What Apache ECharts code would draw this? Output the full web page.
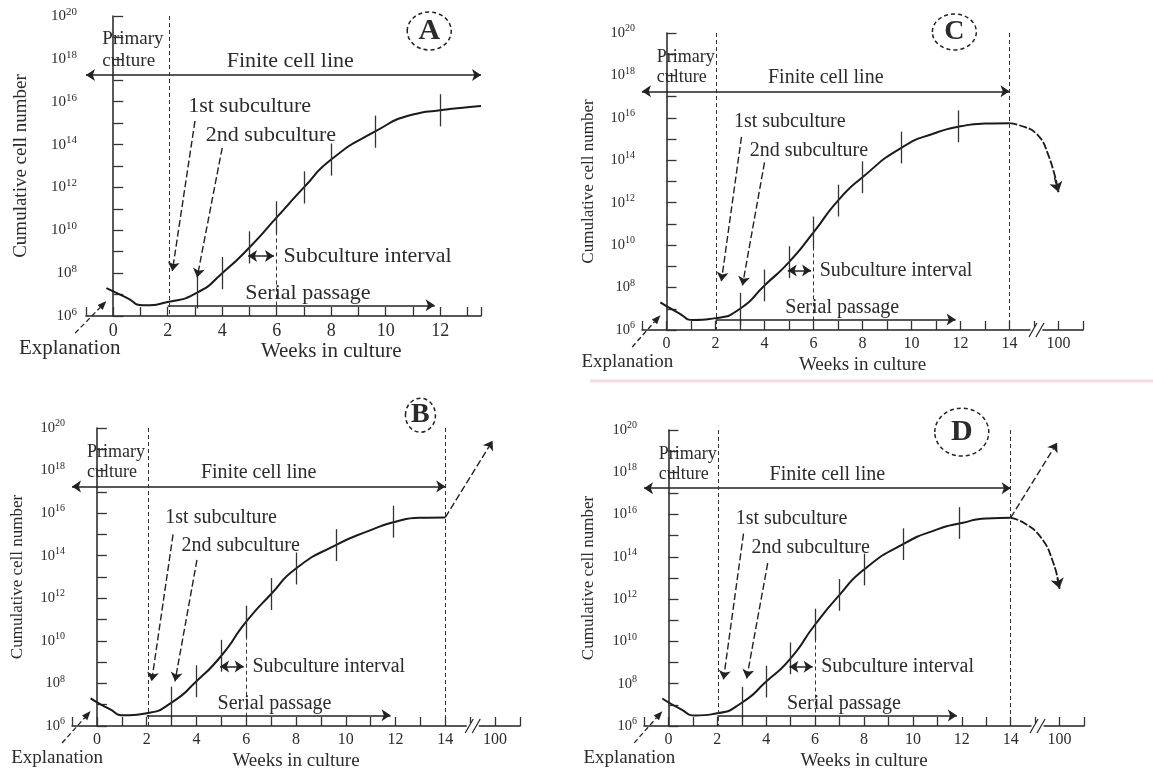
<!DOCTYPE html>
<html><head><meta charset="utf-8">
<script src="https://cdn.jsdelivr.net/npm/echarts@6/dist/echarts.min.js"></script>
<style>html,body{margin:0;padding:0;background:#fff}#c{width:1153px;height:774px}</style>
</head><body><div id="c"></div>
<script>
// ---------------- data (cell numbers are log10 exponents) ----------------
const panelLetters = ['A', 'B', 'C', 'D'];
const yTickExponents = [6, 8, 10, 12, 14, 16, 18, 20];
const xTickPositionsA = [0, 2, 4, 6, 8, 10, 12];
const xTickLabelsA = ['0', '2', '4', '6', '8', '10', '12'];
const xTickPositionsBCD = [0, 2, 4, 6, 8, 10, 12, 14, 16];
const xTickLabelsBCD = ['0', '2', '4', '6', '8', '10', '12', '14', '100'];

const weeksA = [-0.25, 0.5, 1.1, 2, 3.1, 4, 5, 6, 7, 8, 9.6, 11, 12, 13.5];
const cellsA = [7.3, 6.85, 6.5, 6.65, 7.1, 8.0, 9.2, 10.6, 12.0, 13.3, 14.6, 15.4, 15.6, 15.8];
const weeksBCD = [-0.25, 0.5, 1.1, 2, 3, 4, 5, 6, 7, 8, 9.6, 11, 12, 13, 14];
const cellsB = [7.3, 6.8, 6.5, 6.6, 7.1, 8.1, 9.3, 10.9, 12.2, 13.4, 14.5, 15.2, 15.6, 15.78, 15.8];
const cellsC = [7.3, 6.8, 6.47, 6.56, 7.0, 8.1, 9.2, 10.6, 12.1, 13.2, 14.6, 15.3, 15.6, 15.73, 15.75];
const cellsD = [7.3, 6.8, 6.5, 6.6, 7.1, 8.1, 9.2, 10.8, 12.2, 13.4, 14.6, 15.3, 15.6, 15.82, 15.85];

const passageWeeksA = [3.1, 4, 5, 6, 7, 8, 9.6, 12];
const passageCellsA = [7.1, 8.0, 9.2, 10.6, 12.0, 13.3, 14.6, 15.6];
const passageWeeksBCD = [3, 4, 5, 6, 7, 8, 9.6, 11.9];
const passageCellsB = [7.1, 8.1, 9.3, 10.9, 12.2, 13.4, 14.5, 15.6];
const passageCellsC = [7.0, 8.1, 9.2, 10.6, 12.1, 13.2, 14.6, 15.6];
const passageCellsD = [7.1, 8.1, 9.2, 10.8, 12.2, 13.4, 14.6, 15.6];

const tailUpWeeks = [14, 15.9];
const tailUpCellsB = [15.8, 19.4];
const tailUpCellsD = [15.85, 19.4];
const tailDownWeeksC = [14, 14.4, 15.1, 15.6, 16.0];
const tailDownCellsC = [15.75, 15.65, 15.25, 14.2, 12.5];
const tailDownWeeksD = [14, 14.55, 15.25, 15.75, 16.0];
const tailDownCellsD = [15.85, 15.6, 14.9, 13.7, 12.5];

// ---------------- layout / style ----------------
const INK = '#222';
const TXT = '#2b2b2b';
const FONT = '"Liberation Serif", "DejaVu Serif", serif';
const zip = (a, b) => a.map((v, i) => [v, b[i]]);

const panels = [
  { letter: 'A', grid: { left: 86, top: 16, width: 395, height: 300 }, xMax: 13.5, scale: 1.1,
    weeks: weeksA, cells: cellsA, pw: passageWeeksA, pc: passageCellsA,
    xPos: xTickPositionsA, xLab: xTickLabelsA, has14: false, up: null, down: null,
    circle: [11.6, 19.3], r: [22, 19], letterSize: 30, nameGap: 55, yMargin: 9, yFont: 15, ySup: 11, xFont: 18,
    sub1: [[3.0, 15.1], [2.17, 8.1]], sub2: [[4.0, 13.85], [3.08, 7.8]] },
  { letter: 'B', grid: { left: 72, top: 428, width: 448, height: 298 }, xMax: 17, scale: 1,
    weeks: weeksBCD, cells: cellsB, pw: passageWeeksBCD, pc: passageCellsB,
    xPos: xTickPositionsBCD, xLab: xTickLabelsBCD, has14: true, up: tailUpCellsB, down: null,
    circle: [13.0, 20.6], r: [15, 17], letterSize: 28, nameGap: 46, yMargin: 7, yFont: 14.5, ySup: 10, xFont: 16,
    sub1: [[3.06, 15.0], [2.2, 8.1]], sub2: [[4.02, 13.8], [3.14, 8.1]] },
  { letter: 'C', grid: { left: 642, top: 33, width: 441, height: 297 }, xMax: 17, scale: 1,
    weeks: weeksBCD, cells: cellsC, pw: passageWeeksBCD, pc: passageCellsC,
    xPos: xTickPositionsBCD, xLab: xTickLabelsBCD, has14: true, up: null, down: [tailDownWeeksC, tailDownCellsC],
    circle: [11.75, 20.05], r: [22, 18], letterSize: 28, nameGap: 45, yMargin: 7, yFont: 14.5, ySup: 10, xFont: 16,
    sub1: [[3.06, 15.1], [2.24, 8.3]], sub2: [[4.0, 13.9], [3.1, 8.1]] },
  { letter: 'D', grid: { left: 644, top: 430, width: 440, height: 296 }, xMax: 17, scale: 1,
    weeks: weeksBCD, cells: cellsD, pw: passageWeeksBCD, pc: passageCellsD,
    xPos: xTickPositionsBCD, xLab: xTickLabelsBCD, has14: true, up: tailUpCellsD, down: [tailDownWeeksD, tailDownCellsD],
    circle: [12.0, 19.9], r: [27, 24], letterSize: 30, nameGap: 47, yMargin: 7, yFont: 14.5, ySup: 10, xFont: 16,
    sub1: [[3.07, 15.1], [2.25, 8.2]], sub2: [[4.06, 13.7], [3.2, 8.25]] }
];

function markLines(p) {
  const solid = { type: 'solid', color: INK, width: 1.5 };
  const bar = { type: 'solid', color: '#333', width: 1.3 };
  const dash = { type: [7, 3], color: INK, width: 1.4 };
  const thinDash = { type: [4, 3], color: '#333', width: 1 };
  const ml = [];
  const seg = (a, b, style, s1, s2) => ml.push([
    { coord: a, symbol: s1 || 'none', lineStyle: style },
    { coord: b, symbol: s2 || 'none' }
  ]);
  p.pw.forEach((w, k) => seg([w, p.pc[k] - 0.75], [w, p.pc[k] + 0.75], bar));
  seg([-1, 17.25], [p.xMax === 17 ? 14 : p.xMax, 17.25], solid, 'arrow', 'arrow');
  seg([2.05, 20], [2.05, 6], thinDash);
  if (p.has14) seg([14, 20], [14, 6], thinDash);
  seg([6, p.pc[3]], [6, 6], thinDash);
  seg(p.sub1[0], p.sub1[1], dash, 'none', 'arrow');
  seg(p.sub2[0], p.sub2[1], dash, 'none', 'arrow');
  seg([4.95, 8.8], [5.9, 8.8], solid, 'arrow', 'arrow');
  seg([2, 6.5], [11.8, 6.5], solid, 'none', 'arrow');
  if (p.up) seg([tailUpWeeks[0], p.up[0]], [tailUpWeeks[1], p.up[1]], dash, 'none', 'arrow');
  return ml;
}

const option = { animation: false, backgroundColor: '#fff', grid: [], xAxis: [], yAxis: [], series: [] };

panels.forEach((p, i) => {
  option.grid.push(Object.assign({ containLabel: false }, p.grid));
  option.xAxis.push({
    gridIndex: i, type: 'value', min: -1, max: p.xMax, interval: 1,
    axisLine: { onZero: false, lineStyle: { color: INK, width: 1.5 } },
    axisTick: { inside: true, length: 9, lineStyle: { color: '#333', width: 1.3 } },
    splitLine: { show: false },
    axisLabel: {
      margin: 6, color: TXT, fontFamily: FONT, fontSize: p.xFont,
      formatter: v => { const k = p.xPos.indexOf(v); return k >= 0 ? p.xLab[k] : ''; }
    }
  });
  option.yAxis.push({
    gridIndex: i, type: 'value', min: 6, max: 20, interval: 1,
    axisLine: { show: true, lineStyle: { color: INK, width: 1.5 } },
    axisTick: { show: true, inside: true, length: 10, lineStyle: { color: '#333', width: 1.3 } },
    splitLine: { show: false },
    axisLabel: {
      margin: p.yMargin,
      formatter: v => yTickExponents.includes(v) ? '{b|10}{s|' + v + '}' : '',
      rich: {
        b: { fontFamily: FONT, fontSize: p.yFont, color: TXT, lineHeight: 19 },
        s: { fontFamily: FONT, fontSize: p.ySup, color: TXT, lineHeight: 11, verticalAlign: 'top' }
      }
    },
    name: 'Cumulative cell number', nameLocation: 'middle', nameGap: p.nameGap,
    nameTextStyle: { fontFamily: FONT, fontSize: Math.round(17 * p.scale), color: TXT }
  });
  option.series.push({
    type: 'line', xAxisIndex: i, yAxisIndex: i, data: zip(p.weeks, p.cells),
    smooth: 0.6, symbol: 'none', silent: true, z: 3,
    lineStyle: { color: '#1a1a1a', width: 2 },
    markLine: {
      silent: true, animation: false, symbolSize: 9, label: { show: false },
      emphasis: { disabled: true }, lineStyle: { type: 'solid', color: INK, width: 1.5 },
      data: markLines(p)
    }
  });
  if (p.down) {
    const dw = p.down[0], dc = p.down[1], n = dw.length;
    option.series.push({
      type: 'line', xAxisIndex: i, yAxisIndex: i, data: zip(dw, dc),
      smooth: 0.5, symbol: 'none', silent: true, z: 3,
      lineStyle: { color: '#1a1a1a', width: 1.8, type: [8, 2] },
      markLine: {
        silent: true, animation: false, symbolSize: 10, label: { show: false },
        emphasis: { disabled: true }, lineStyle: { type: 'solid', color: INK, width: 1.5 },
        data: [[{ coord: [dw[n - 2] + (dw[n - 1] - dw[n - 2]) * 0.6, dc[n - 2] + (dc[n - 1] - dc[n - 2]) * 0.6], symbol: 'none' },
                { coord: [dw[n - 1], dc[n - 1]], symbol: 'arrow' }]]
      }
    });
  }
});

const chart = echarts.init(document.getElementById('c'));
chart.setOption(option);

// ---------------- annotations placed through the chart's own scales ----------------
const g = [];
function text(pt, str, size, align, extra) {
  g.push({ type: 'text', x: pt[0], y: pt[1], silent: true, z: 10,
    style: Object.assign({ text: str, fontFamily: FONT, fontSize: size, fill: TXT,
      align: align || 'left', verticalAlign: 'middle' }, extra || {}) });
}
function arrow(a, b, dashed) {
  const ang = Math.atan2(b[1] - a[1], b[0] - a[0]);
  const L = 9, W = 3.5;
  const bx = b[0] - L * Math.cos(ang), by = b[1] - L * Math.sin(ang);
  const nx = -Math.sin(ang), ny = Math.cos(ang);
  g.push({ type: 'line', silent: true, z: 10, shape: { x1: a[0], y1: a[1], x2: bx, y2: by },
    style: { stroke: INK, lineWidth: 1.3, lineDash: dashed ? [5, 3] : null } });
  g.push({ type: 'polygon', silent: true, z: 10,
    shape: { points: [[b[0], b[1]], [bx + nx * W, by + ny * W], [bx - nx * W, by - ny * W]] },
    style: { fill: INK } });
}

panels.forEach((p, i) => {
  const P = (x, y) => chart.convertToPixel({ gridIndex: i }, [x, y]);
  const s = p.scale;
  const big = Math.round(20 * s);
  text(P(-0.4, 18.4), 'Primary\nculture', Math.round(17.5 * s), 'left', { lineHeight: Math.round(20 * s) });
  text(P(6.5, 17.9), 'Finite cell line', big, 'center');
  text(P(2.75, 15.8), '1st subculture', big);
  text(P(3.4, 14.45), '2nd subculture', big);
  text(P(6.25, 8.8), 'Subculture interval', big);
  text(P(4.85, 7.05), 'Serial passage', big);
  text(P(-1.6, 4.48), 'Explanation', Math.round(19 * s), 'center');
  text(P(8.0, 4.35), 'Weeks in culture', Math.round(19 * s), 'center');
  arrow(P(-1.4, 5.2), P(-0.25, 6.7), true);
  const c = P(p.circle[0], p.circle[1]);
  g.push({ type: 'ellipse', silent: true, z: 10, shape: { cx: c[0], cy: c[1], rx: p.r[0], ry: p.r[1] },
    style: { fill: 'none', stroke: INK, lineWidth: 1.5, lineDash: [4, 3] } });
  text(c, p.letter, p.letterSize, 'center', { fontWeight: 'bold' });
  if (p.has14) {
    const b = P(15.1, 6);
    g.push({ type: 'rect', silent: true, z: 9, shape: { x: b[0] - 6, y: b[1] - 3, width: 12, height: 6 }, style: { fill: '#fff' } });
    [-3.5, 3.5].forEach(k => g.push({ type: 'line', silent: true, z: 10,
      shape: { x1: b[0] + k - 4, y1: b[1] + 7, x2: b[0] + k + 4, y2: b[1] - 7 },
      style: { stroke: INK, lineWidth: 1.2 } }));
  }
});
// faint separator under the top-right panel, as in the scan
g.push({ type: 'line', silent: true, shape: { x1: 590, y1: 381, x2: 1153, y2: 381 }, style: { stroke: '#f4dce1', lineWidth: 3 } });

chart.setOption({ graphic: g });
</script>
</body></html>
